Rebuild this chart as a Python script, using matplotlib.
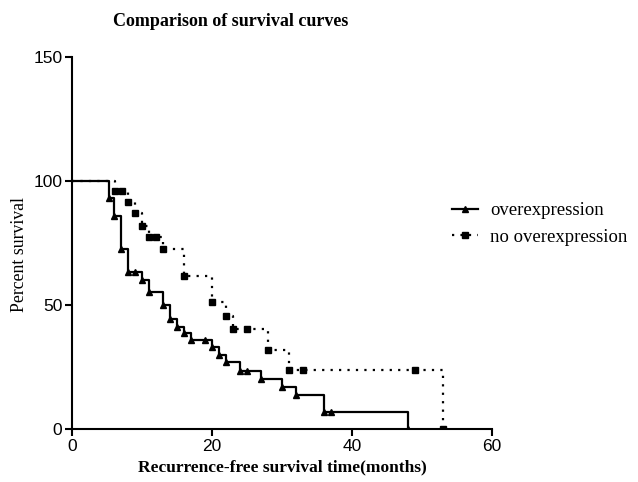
import numpy as np
import matplotlib.pyplot as plt

# overexpression group (step times / percent survival after each drop)
t_over = [0, 5.3, 6, 7, 8, 10, 11, 13, 14, 15, 16, 17, 20, 21, 22, 24, 27, 30, 32, 36, 48]
s_over = [100, 93, 86, 72.5, 63.4, 60, 55.4, 50, 44.5, 41, 38.7, 36, 33, 30, 27, 23.5, 20, 17, 13.7, 6.7, 0]
cens_t_over = [9, 19, 25, 37]
cens_s_over = [63.4, 36, 23.5, 6.7]

# no overexpression group
t_no = [0, 6.2, 8, 9, 10, 11, 13, 16, 20, 22, 23, 28, 31, 53]
s_no = [100, 96, 91.3, 87, 82, 77.5, 72.5, 61.8, 51.3, 45.6, 40.2, 31.9, 23.8, 0]
cens_t_no = [7.2, 12, 25, 33, 49]
cens_s_no = [96, 77.5, 40.2, 23.8, 23.8]

x_ticks = [0, 20, 40, 60]
y_ticks = [0, 50, 100, 150]

serif = ['Liberation Serif', 'DejaVu Serif']
sans = ['Liberation Sans', 'DejaVu Sans']

fig = plt.figure(figsize=(6.38, 4.82), dpi=100)
ax = fig.add_axes([0.113, 0.110, 0.658, 0.772])

# curves
ax.step(t_over, s_over, where='post', color='k', lw=1.6)
ax.plot(t_over[1:], s_over[1:], ls='none', marker='^', ms=4.2, color='k')
ax.plot(cens_t_over, cens_s_over, ls='none', marker='^', ms=4.2, color='k')

ax.step(t_no, s_no, where='post', color='k', lw=1.6, ls=(0, (1, 2.8)))
ax.plot(t_no[1:], s_no[1:], ls='none', marker='s', ms=4.5, color='k')
ax.plot(cens_t_no, cens_s_no, ls='none', marker='s', ms=4.5, color='k')

# legend handles
h1, = ax.plot([], [], color='k', lw=1.6, marker='^', ms=4.2)
h2, = ax.plot([], [], color='k', lw=1.6, ls=(0, (1, 2.8)), marker='s', ms=4)
fig.legend([h1, h2], ['overexpression', 'no overexpression'],
           loc='center left', bbox_to_anchor=(0.6825, 0.535), frameon=False,
           handlelength=1.39, handletextpad=0.64, labelspacing=0.5,
           prop={'family': serif, 'size': 13.5})

ax.set_xlim(0, 60)
ax.set_ylim(0, 150)
ax.set_xticks(x_ticks)
ax.set_yticks(y_ticks)
for lab in ax.get_xticklabels() + ax.get_yticklabels():
    lab.set_family(sans)
    lab.set_fontsize(12.5)

for side in ['top', 'right']:
    ax.spines[side].set_visible(False)
for side in ['left', 'bottom']:
    ax.spines[side].set_linewidth(1.5)
ax.tick_params(direction='out', width=1.5, length=5, pad=2)

ax.set_xlabel('Recurrence-free survival time(months)', family=serif,
              fontsize=12.5, fontweight='bold', labelpad=4)
ax.set_ylabel('Percent survival', family=serif, fontsize=12.8)
ax.yaxis.set_label_coords(-0.105, 0.47)

fig.text(0.362, 0.955, 'Comparison of survival curves', family=serif,
         fontsize=13, fontweight='bold', ha='center', va='center')

fig.savefig('out.png', dpi=100)
